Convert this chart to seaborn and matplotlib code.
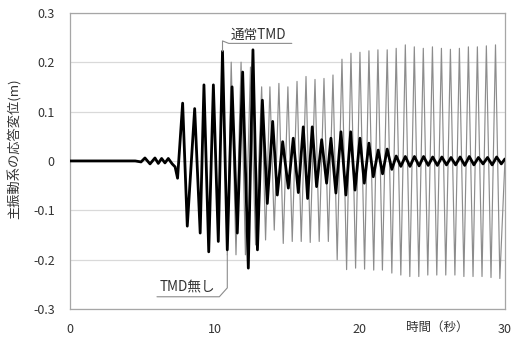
import matplotlib
matplotlib.use("Agg")
import matplotlib.pyplot as plt
import seaborn as sns
import pandas as pd

# 通常TMD (thick black) : turning points (time s, displacement m)
tmd_t = [0, 4.5, 4.9, 5.17, 5.52, 5.86, 6.09, 6.32, 6.55, 6.78, 7.05, 7.25, 7.42,
         7.77, 8.09, 8.6, 8.98, 9.24, 9.57, 9.89, 10.23, 10.52, 10.85, 11.18, 11.54,
         11.91, 12.3, 12.62, 12.93, 13.27, 13.61, 13.98, 14.3, 14.67, 15.06, 15.4,
         15.75, 16.09, 16.39, 16.71, 17.01, 17.36, 17.7, 18.0, 18.34, 18.69, 19.03,
         19.36, 19.66, 20.0, 20.3, 20.62, 20.92, 21.26, 21.56, 21.88, 22.2, 22.5,
         22.82, 23.13, 23.45, 23.76, 24.08, 24.39, 24.71, 25.02, 25.34, 25.65, 25.97,
         26.28, 26.6, 26.91, 27.23, 27.54, 27.86, 28.17, 28.49, 28.8, 29.12, 29.43,
         29.75, 30.0]
tmd_v = [0, 0, -0.002, 0.006, -0.006, 0.006, -0.005, 0.005, -0.004, 0.005, -0.006, -0.012, -0.035,
         0.117, -0.132, 0.106, -0.146, 0.154, -0.184, 0.154, -0.163, 0.222, -0.18, 0.15, -0.146,
         0.18, -0.217, 0.225, -0.18, 0.123, -0.086, 0.08, -0.069, 0.039, -0.055, 0.046,
         -0.064, 0.069, -0.076, 0.069, -0.052, 0.043, -0.045, 0.046, -0.065, 0.059, -0.069,
         0.059, -0.059, 0.046, -0.045, 0.036, -0.032, 0.022, -0.026, 0.024, -0.017, 0.01,
         -0.011, 0.009, -0.011, 0.009, -0.01, 0.009, -0.009, 0.008, -0.009, 0.008, -0.008,
         0.007, -0.008, 0.008, -0.009, 0.009, -0.008, 0.007, -0.006, 0.007, -0.008, 0.008,
         -0.006, 0.004]

# TMD無し (thin grey) : turning points
none_t = [0, 4.5, 4.9, 5.17, 5.52, 5.86, 6.09, 6.32, 6.55, 6.78, 7.05, 7.25, 7.42,
          7.77, 8.09, 8.6, 8.98, 9.24, 9.57, 9.89, 10.23, 10.52, 10.85, 11.12, 11.45,
          11.8, 12.1, 12.45, 12.8, 13.22, 13.49, 13.79, 14.09, 14.41, 14.71, 15.03,
          15.33, 15.66, 15.95, 16.28, 16.57, 16.9, 17.19, 17.52, 17.82, 18.14, 18.43,
          18.76, 19.08, 19.38, 19.7, 20.0, 20.32, 20.62, 20.95, 21.24, 21.55, 21.88,
          22.2, 22.5, 22.82, 23.13, 23.44, 23.75, 24.06, 24.37, 24.68, 25.0, 25.3,
          25.62, 25.92, 26.24, 26.55, 26.86, 27.17, 27.48, 27.8, 28.1, 28.42, 28.72,
          29.04, 29.35, 29.65, 30.0]
none_v = [0, 0, -0.002, 0.006, -0.006, 0.006, -0.005, 0.005, -0.004, 0.005, -0.006, -0.012, -0.035,
          0.117, -0.132, 0.106, -0.146, 0.154, -0.184, 0.154, -0.163, 0.222, -0.19, 0.2, -0.19,
          0.2, -0.19, 0.19, -0.17, 0.15, -0.16, 0.15, -0.14, 0.157, -0.167, 0.15,
          -0.163, 0.161, -0.163, 0.171, -0.165, 0.165, -0.163, 0.167, -0.163, 0.174, -0.2,
          0.206, -0.22, 0.218, -0.217, 0.22, -0.219, 0.223, -0.221, 0.225, -0.221, 0.225,
          -0.227, 0.228, -0.231, 0.235, -0.234, 0.231, -0.234, 0.228, -0.231, 0.231, -0.231,
          0.228, -0.231, 0.226, -0.231, 0.228, -0.234, 0.231, -0.234, 0.231, -0.234, 0.233,
          -0.236, 0.235, -0.238, 0.0]

y_ticks = [-0.3, -0.2, -0.1, 0, 0.1, 0.2, 0.3]
y_tick_labels = ["-0.3", "-0.2", "-0.1", "0", "0.1", "0.2", "0.3"]
x_ticks = [0, 10, 20, 30]

sns.set_style("white")
plt.rcParams['font.family'] = ['Noto Sans CJK JP', 'DejaVu Sans']

df_tmd = pd.DataFrame({'t': tmd_t, 'v': tmd_v})
df_none = pd.DataFrame({'t': none_t, 'v': none_v})

fig = plt.figure(figsize=(5.2, 3.45), dpi=100)
ax = fig.add_axes([0.1346, 0.104, 0.971 - 0.1346, 0.963 - 0.104])

for y in y_ticks:
    ax.axhline(y, color='#d9d9d9', lw=0.9, zorder=0)

sns.lineplot(data=df_none, x='t', y='v', ax=ax, color='#8c8c8c', lw=0.85,
             sort=False, estimator=None, zorder=2)
sns.lineplot(data=df_tmd, x='t', y='v', ax=ax, color='black', lw=2.0,
             sort=False, estimator=None, zorder=3)

ax.set_xlim(0, 30)
ax.set_ylim(-0.3, 0.3)
ax.set_yticks(y_ticks)
ax.set_yticklabels(y_tick_labels)
ax.set_xticks(x_ticks)
ax.tick_params(axis='both', length=0, labelsize=9, colors='#333333')
ax.tick_params(axis='x', pad=10)
ax.tick_params(axis='y', pad=11)
for s in ax.spines.values():
    s.set_color('#a6a6a6')
    s.set_linewidth(0.9)

ax.set_xlabel('')
ax.set_ylabel('主振動系の応答変位(m)', fontsize=9.5, color='#333333')
ax.yaxis.set_label_coords(-0.11, 0.54)
ax.text(25.3, -0.336, '時間（秒）', fontsize=9, color='#333333',
        ha='center', va='center', clip_on=False)

# callout for 通常TMD, anchored on the big peak near t = 10.5
pk = df_tmd.loc[df_tmd['t'].between(10, 11), 'v'].idxmax()
pk_t, pk_v = df_tmd.loc[pk, 't'], df_tmd.loc[pk, 'v']
ax.plot([pk_t, pk_t, 10.95, 15.3], [pk_v, 0.243, 0.238, 0.238], color='#8c8c8c',
        lw=0.8, clip_on=False, zorder=4)
ax.text(11.1, 0.255, '通常TMD', fontsize=9.8, color='#333333', va='center', ha='left')

# callout for TMD無し, anchored on the trough near t = 10.85
tr = df_none.loc[df_none['t'].between(10.6, 11), 'v'].idxmin()
tr_t, tr_v = df_none.loc[tr, 't'], df_none.loc[tr, 'v']
ax.plot([tr_t, tr_t, 10.3, 6.0], [tr_v, -0.257, -0.275, -0.275], color='#8c8c8c',
        lw=0.8, clip_on=False, zorder=4)
ax.text(6.2, -0.256, 'TMD無し', fontsize=9.8, color='#333333', va='center', ha='left')

fig.savefig('out.png', dpi=100)
